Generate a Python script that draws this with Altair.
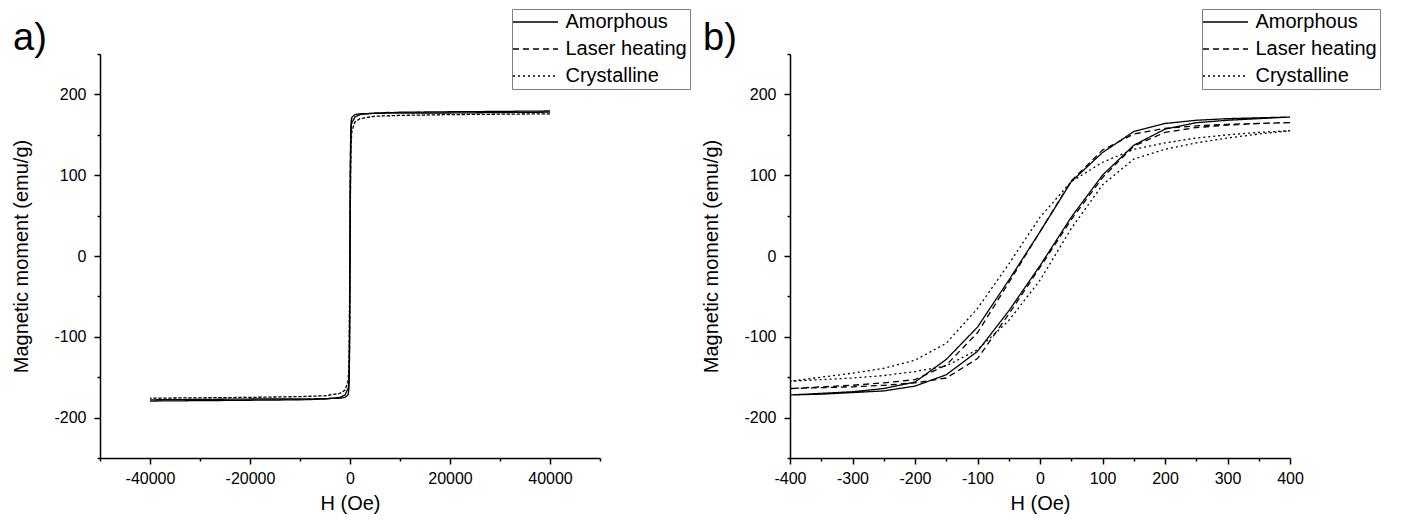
import altair as alt
import pandas as pd

SERIES = ["Amorphous", "Laser heating", "Crystalline"]
DASHES = [[1, 0], [6, 4], [2, 3]]

# inner field values (Oe) for panel b, both branches listed in increasing H
H_INNER = [-400, -350, -300, -250, -200, -150, -100, -50, 0, 50, 100, 150, 200, 250, 300, 350, 400]
AMORPH_DESC = [-172, -170, -168, -164, -156, -128, -88, -30, 30, 92, 128, 154, 164, 168, 170, 171, 172]
AMORPH_ASC = [-172, -171, -169, -167, -161, -147, -118, -68, -12, 48, 100, 137, 157, 165, 168, 170, 172]
LASER_DESC = [-164, -162, -160, -157, -153, -135, -95, -33, 30, 93, 131, 151, 158, 161, 163, 164, 165]
LASER_ASC = [-164, -163, -162, -160, -157, -151, -127, -72, -14, 45, 97, 136, 153, 159, 162, 164, 165]
CRYST_DESC = [-155, -150, -145, -139, -129, -108, -65, -10, 48, 92, 116, 132, 140, 146, 150, 153, 155]
CRYST_ASC = [-155, -153, -151, -148, -143, -136, -116, -80, -30, 34, 88, 120, 132, 140, 146, 151, 155]

# high field values (Oe) for panel a (positive side; negative side is mirrored)
H_OUTER = [1000, 2000, 5000, 10000, 20000, 30000, 40000]
AMORPH_OUTER = [175, 176, 176.5, 177, 177, 177.5, 178]
LASER_OUTER = [172, 175, 177, 178, 178.5, 179, 179.5]
CRYST_OUTER = [166, 170, 173, 174, 175, 175.5, 176]

X_TICKS_A = [-50000, -40000, -30000, -20000, -10000, 0, 10000, 20000, 30000, 40000, 50000]
X_TICKS_B = [-400, -350, -300, -250, -200, -150, -100, -50, 0, 50, 100, 150, 200, 250, 300, 350, 400]
Y_TICKS = [-250, -200, -150, -100, -50, 0, 50, 100, 150, 200, 250]
PANEL_TAGS = ["a)", "b)"]

BRANCHES = {
    "Amorphous": (AMORPH_DESC, AMORPH_ASC, AMORPH_OUTER),
    "Laser heating": (LASER_DESC, LASER_ASC, LASER_OUTER),
    "Crystalline": (CRYST_DESC, CRYST_ASC, CRYST_OUTER),
}


def loop_rows(with_outer):
    rows = []
    for name, (desc, asc, outer) in BRANCHES.items():
        pts = []
        if with_outer:
            pts += list(zip(reversed(H_OUTER), reversed(outer)))
        pts += list(zip(reversed(H_INNER), reversed(desc)))
        if with_outer:
            pts += [(-h, -m) for h, m in zip(H_OUTER, outer)]
            pts += [(-h, -m) for h, m in zip(reversed(H_OUTER), reversed(outer))]
        pts += list(zip(H_INNER, asc))
        if with_outer:
            pts += list(zip(H_OUTER, outer))
        for i, (h, m) in enumerate(pts):
            rows.append({"series": name, "H": h, "M": m, "idx": i})
    return pd.DataFrame(rows)


FONT = "Liberation Sans"


def panel(df, xdom, xticks, xmajor, tag):
    legend = alt.Legend(
        title=None, orient="none", legendX=412, legendY=-45,
        symbolType="M-4.5,0H4.5", symbolSize=100, symbolStrokeWidth=1.3,
        symbolStrokeColor="black", symbolOffset=10.5, labelOffset=20,
        labelFontSize=20, labelFont=FONT, labelColor="black", labelLimit=400,
        strokeColor="#808080", fillColor="white", padding=3, rowPadding=7,
    )
    lines = alt.Chart(df).mark_line(color="black", strokeWidth=1.3).encode(
        x=alt.X("H:Q", scale=alt.Scale(domain=xdom, nice=False, zero=False),
                axis=alt.Axis(
                    values=xticks, title="H (Oe)", grid=False,
                    labelExpr=f"datum.value % {xmajor} === 0 ? '' + datum.value : ''",
                    tickSize={"condition": {"test": f"datum.value % {xmajor} === 0", "value": 6}, "value": 3},
                    labelOverlap=False, labelFlush=False, labelBound=False)),
        y=alt.Y("M:Q", scale=alt.Scale(domain=[-250, 250], nice=False, zero=False),
                axis=alt.Axis(
                    values=Y_TICKS, title="Magnetic moment (emu/g)", grid=False,
                    labelExpr="datum.value % 100 === 0 ? '' + datum.value : ''",
                    tickSize={"condition": {"test": "datum.value % 100 === 0", "value": 6}, "value": 3},
                    labelOverlap=False, labelFlush=False, labelBound=False)),
        strokeDash=alt.StrokeDash("series:N", scale=alt.Scale(domain=SERIES, range=DASHES), legend=legend),
        order=alt.Order("idx:Q"),
    )
    label = alt.Chart(pd.DataFrame({"tag": [tag]})).mark_text(
        font=FONT, fontSize=38, color="black", align="left", baseline="alphabetic"
    ).encode(text="tag:N", x=alt.value(-87), y=alt.value(-4))
    return alt.layer(lines, label).properties(width=500, height=404)


a = panel(loop_rows(True), [-50000, 50000], X_TICKS_A, 20000, PANEL_TAGS[0])
b = panel(loop_rows(False), [-400, 400], X_TICKS_B, 100, PANEL_TAGS[1])

chart = alt.hconcat(a, b, spacing=190, bounds="flush").resolve_scale(
    x="independent", y="independent", strokeDash="independent"
).resolve_legend(strokeDash="independent").configure(
    font=FONT, padding={"left": 3, "top": 0, "right": 2, "bottom": 2}, background="white"
).configure_view(stroke=None).configure_axis(
    domainColor="black", domainWidth=1.5, tickColor="black", tickWidth=1.5,
    labelColor="black", titleColor="black", labelFont=FONT, titleFont=FONT,
    labelFontSize=16, titleFontSize=20, titleFontWeight="normal",
).configure_axisX(labelPadding=6, titlePadding=7).configure_axisY(labelPadding=8, titlePadding=22)

chart.save("out.html", embed_options={"renderer": "svg", "actions": False})
